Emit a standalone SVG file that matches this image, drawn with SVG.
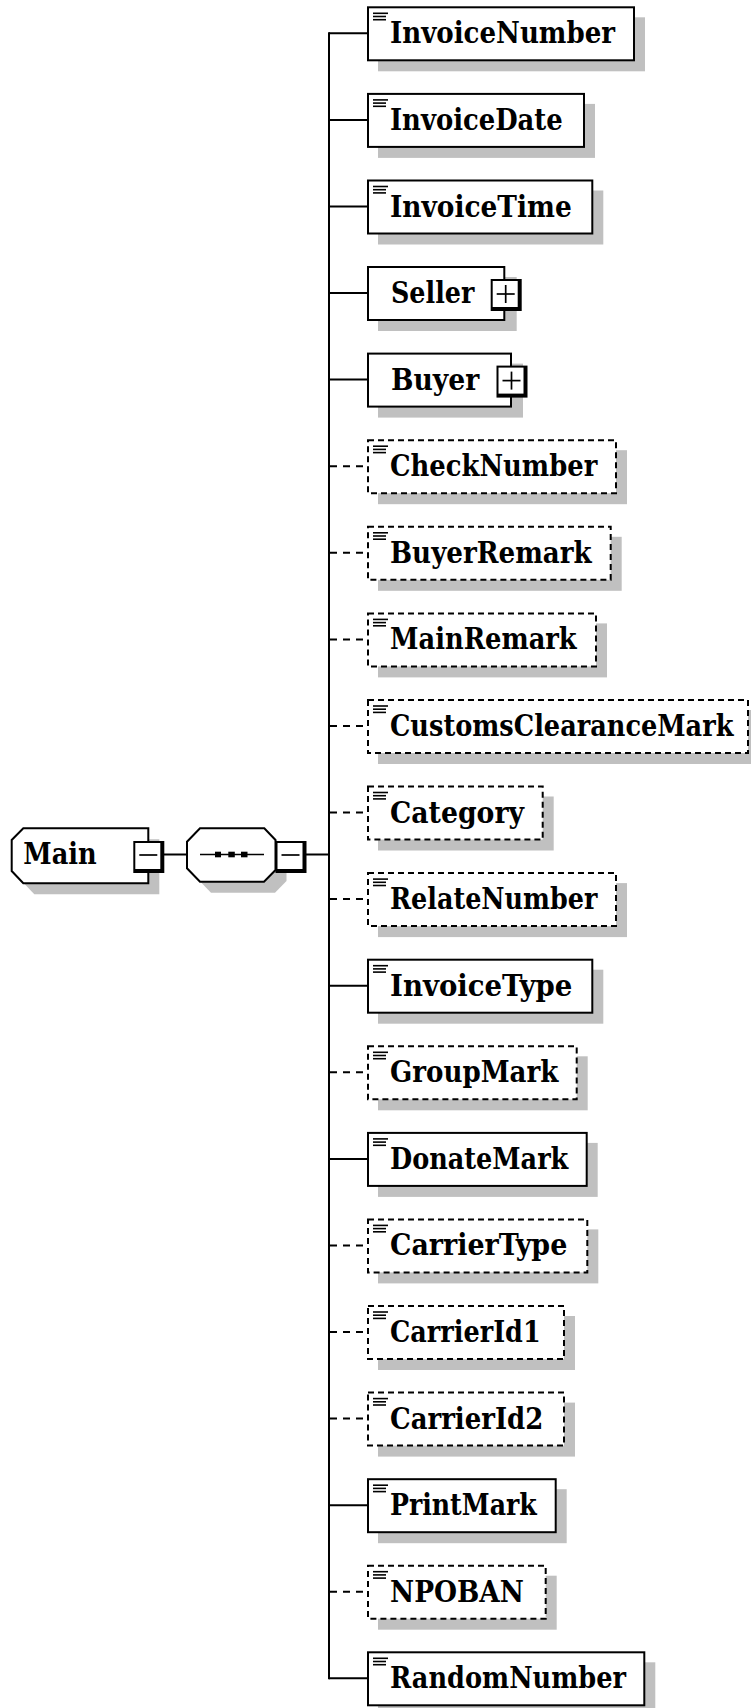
<svg xmlns="http://www.w3.org/2000/svg" width="751" height="1708" viewBox="0 0 751 1708">
<style>
.sh{fill:#c0c0c0}
.bx{fill:#fff;stroke:#000;stroke-width:2}
.bxd{fill:#fff;stroke:#000;stroke-width:2;stroke-dasharray:6 4}
.ln{stroke:#000;stroke-width:2;fill:none}
.lnd{stroke:#000;stroke-width:2;fill:none;stroke-dasharray:7 6}
.ic{stroke:#000;stroke-width:1.6}
.t{font-family:"DejaVu Serif","Liberation Serif",serif;font-weight:bold;font-size:29px;fill:#000}
.pm{stroke:#000;stroke-width:1.7}
</style>
<defs>
<g id="icon"><line class="ic" x1="373" y1="6" x2="388" y2="6"/><line class="ic" x1="373" y1="9.2" x2="386" y2="9.2"/><line class="ic" x1="373" y1="12.4" x2="386" y2="12.4"/></g>
<g id="btn"><rect x="0" y="0" width="31" height="32" fill="#000"/><rect x="2" y="2" width="25" height="26" fill="#fff"/><line class="pm" x1="6" y1="14" x2="24" y2="14"/></g>
<g id="btnp"><rect x="0" y="0" width="31" height="32" fill="#000"/><rect x="2" y="2" width="25" height="26" fill="#fff"/><line class="pm" x1="6" y1="15" x2="24" y2="15"/><line class="pm" x1="15" y1="6" x2="15" y2="24"/></g>
</defs>
<g id="connectors">
<line class="ln" x1="329" y1="32.3" x2="329" y2="1679.3"/>
<line class="ln" x1="164" y1="854.5" x2="187" y2="854.5"/>
<line class="ln" x1="306" y1="854.5" x2="329" y2="854.5"/>
<line class="ln" x1="329" y1="33.3" x2="368" y2="33.3"/>
<line class="ln" x1="329" y1="119.9" x2="368" y2="119.9"/>
<line class="ln" x1="329" y1="206.5" x2="368" y2="206.5"/>
<line class="ln" x1="329" y1="293" x2="368" y2="293"/>
<line class="ln" x1="329" y1="379.6" x2="368" y2="379.6"/>
<line class="lnd" x1="330" y1="466.2" x2="368" y2="466.2"/>
<line class="lnd" x1="330" y1="552.8" x2="368" y2="552.8"/>
<line class="lnd" x1="330" y1="639.4" x2="368" y2="639.4"/>
<line class="lnd" x1="330" y1="726" x2="368" y2="726"/>
<line class="lnd" x1="330" y1="812.5" x2="368" y2="812.5"/>
<line class="lnd" x1="330" y1="899.1" x2="368" y2="899.1"/>
<line class="ln" x1="329" y1="985.7" x2="368" y2="985.7"/>
<line class="lnd" x1="330" y1="1072.3" x2="368" y2="1072.3"/>
<line class="ln" x1="329" y1="1158.9" x2="368" y2="1158.9"/>
<line class="lnd" x1="330" y1="1245.4" x2="368" y2="1245.4"/>
<line class="lnd" x1="330" y1="1332" x2="368" y2="1332"/>
<line class="lnd" x1="330" y1="1418.6" x2="368" y2="1418.6"/>
<line class="ln" x1="329" y1="1505.2" x2="368" y2="1505.2"/>
<line class="lnd" x1="330" y1="1591.7" x2="368" y2="1591.7"/>
<line class="ln" x1="329" y1="1678.3" x2="368" y2="1678.3"/>
</g>
<g id="Main">
<path class="sh" transform="translate(11,11)" d="M23.3,828.3 L148.3,828.3 L148.3,883.3 L23.3,883.3 L11.7,871 L11.7,840 Z"/>
<path class="bx" d="M23.3,828.3 L148.3,828.3 L148.3,883.3 L23.3,883.3 L11.7,871 L11.7,840 Z"/>
<text class="t" x="23.3" y="864" textLength="73.4" lengthAdjust="spacingAndGlyphs">Main</text>
<use href="#btn" x="133.3" y="841"/>
</g>
<g id="sequence">
<path class="sh" transform="translate(11,11)" d="M200,828.3 L264.3,828.3 L275.5,840 L275.5,870 L264,881.7 L200,881.7 L187,868.3 L187,841.7 Z"/>
<path class="bx" d="M200,828.3 L264.3,828.3 L275.5,840 L275.5,870 L264,881.7 L200,881.7 L187,868.3 L187,841.7 Z"/>
<line x1="200" y1="854.5" x2="264" y2="854.5" stroke="#000" stroke-width="1.7"/>
<rect x="215" y="851.7" width="6" height="5.6" fill="#000"/>
<rect x="228.3" y="851.7" width="6.5" height="5.6" fill="#000"/>
<rect x="241" y="851.7" width="6.5" height="5.6" fill="#000"/>
<use href="#btn" x="275.5" y="841"/>
</g>
<g id="InvoiceNumber"><rect class="sh" x="378" y="17.3" width="267" height="54"/><rect class="bx" x="368" y="7.3" width="266" height="53"/><use href="#icon" y="7.3"/><text class="t" x="390" y="43.3" textLength="225" lengthAdjust="spacingAndGlyphs">InvoiceNumber</text></g>
<g id="InvoiceDate"><rect class="sh" x="378" y="103.9" width="217" height="54"/><rect class="bx" x="368" y="93.9" width="216" height="53"/><use href="#icon" y="93.9"/><text class="t" x="390" y="129.9" textLength="172.7" lengthAdjust="spacingAndGlyphs">InvoiceDate</text></g>
<g id="InvoiceTime"><rect class="sh" x="378" y="190.5" width="225.3" height="54"/><rect class="bx" x="368" y="180.5" width="224.3" height="53"/><use href="#icon" y="180.5"/><text class="t" x="390" y="216.5" textLength="181.7" lengthAdjust="spacingAndGlyphs">InvoiceTime</text></g>
<g id="Seller"><rect class="sh" x="378" y="277" width="138.7" height="54"/><rect class="bx" x="368" y="267" width="136.3" height="53"/><text class="t" x="391" y="303" textLength="83.3" lengthAdjust="spacingAndGlyphs">Seller</text><use href="#btnp" x="490.7" y="279"/></g>
<g id="Buyer"><rect class="sh" x="378" y="363.6" width="145" height="54"/><rect class="bx" x="368" y="353.6" width="143" height="53"/><text class="t" x="391" y="389.6" textLength="88.3" lengthAdjust="spacingAndGlyphs">Buyer</text><use href="#btnp" x="496.5" y="365.6"/></g>
<g id="CheckNumber"><rect class="sh" x="378" y="450.2" width="249" height="54"/><rect class="bxd" x="368" y="440.2" width="248" height="53"/><use href="#icon" y="440.2"/><text class="t" x="390" y="476.2" textLength="207.3" lengthAdjust="spacingAndGlyphs">CheckNumber</text></g>
<g id="BuyerRemark"><rect class="sh" x="378" y="536.8" width="243.7" height="54"/><rect class="bxd" x="368" y="526.8" width="242.7" height="53"/><use href="#icon" y="526.8"/><text class="t" x="390" y="562.8" textLength="201.7" lengthAdjust="spacingAndGlyphs">BuyerRemark</text></g>
<g id="MainRemark"><rect class="sh" x="378" y="623.4" width="229" height="54"/><rect class="bxd" x="368" y="613.4" width="228" height="53"/><use href="#icon" y="613.4"/><text class="t" x="390" y="649.4" textLength="186.7" lengthAdjust="spacingAndGlyphs">MainRemark</text></g>
<g id="CustomsClearanceMark"><rect class="sh" x="378" y="710" width="381" height="54"/><rect class="bxd" x="368" y="700" width="380" height="53"/><use href="#icon" y="700"/><text class="t" transform="translate(390,736) scale(0.883,1)" x="0" y="0">CustomsClearanceMark</text></g>
<g id="Category"><rect class="sh" x="378" y="796.5" width="175.7" height="54"/><rect class="bxd" x="368" y="786.5" width="174.7" height="53"/><use href="#icon" y="786.5"/><text class="t" x="390" y="822.5" textLength="134" lengthAdjust="spacingAndGlyphs">Category</text></g>
<g id="RelateNumber"><rect class="sh" x="378" y="883.1" width="249" height="54"/><rect class="bxd" x="368" y="873.1" width="248" height="53"/><use href="#icon" y="873.1"/><text class="t" x="390" y="909.1" textLength="207.3" lengthAdjust="spacingAndGlyphs">RelateNumber</text></g>
<g id="InvoiceType"><rect class="sh" x="378" y="969.7" width="225.3" height="54"/><rect class="bx" x="368" y="959.7" width="224.3" height="53"/><use href="#icon" y="959.7"/><text class="t" x="390" y="995.7" textLength="182.3" lengthAdjust="spacingAndGlyphs">InvoiceType</text></g>
<g id="GroupMark"><rect class="sh" x="378" y="1056.3" width="209.7" height="54"/><rect class="bxd" x="368" y="1046.3" width="208.7" height="53"/><use href="#icon" y="1046.3"/><text class="t" x="390" y="1082.3" textLength="168.3" lengthAdjust="spacingAndGlyphs">GroupMark</text></g>
<g id="DonateMark"><rect class="sh" x="378" y="1142.9" width="219.7" height="54"/><rect class="bx" x="368" y="1132.9" width="218.7" height="53"/><use href="#icon" y="1132.9"/><text class="t" x="390" y="1168.9" textLength="178.3" lengthAdjust="spacingAndGlyphs">DonateMark</text></g>
<g id="CarrierType"><rect class="sh" x="378" y="1229.4" width="220.3" height="54"/><rect class="bxd" x="368" y="1219.4" width="219.3" height="53"/><use href="#icon" y="1219.4"/><text class="t" x="390" y="1255.4" textLength="177.3" lengthAdjust="spacingAndGlyphs">CarrierType</text></g>
<g id="CarrierId1"><rect class="sh" x="378" y="1316" width="197" height="54"/><rect class="bxd" x="368" y="1306" width="196" height="53"/><use href="#icon" y="1306"/><text class="t" x="390" y="1342" textLength="150.7" lengthAdjust="spacingAndGlyphs">CarrierId1</text></g>
<g id="CarrierId2"><rect class="sh" x="378" y="1402.6" width="197" height="54"/><rect class="bxd" x="368" y="1392.6" width="196" height="53"/><use href="#icon" y="1392.6"/><text class="t" x="390" y="1428.6" textLength="153.3" lengthAdjust="spacingAndGlyphs">CarrierId2</text></g>
<g id="PrintMark"><rect class="sh" x="378" y="1489.2" width="188.7" height="54"/><rect class="bx" x="368" y="1479.2" width="187.7" height="53"/><use href="#icon" y="1479.2"/><text class="t" x="390" y="1515.2" textLength="146.7" lengthAdjust="spacingAndGlyphs">PrintMark</text></g>
<g id="NPOBAN"><rect class="sh" x="378" y="1575.7" width="178.7" height="54"/><rect class="bxd" x="368" y="1565.7" width="177.7" height="53"/><use href="#icon" y="1565.7"/><text class="t" x="390" y="1601.7" textLength="134" lengthAdjust="spacingAndGlyphs">NPOBAN</text></g>
<g id="RandomNumber"><rect class="sh" x="378" y="1662.3" width="277.3" height="54"/><rect class="bx" x="368" y="1652.3" width="276.3" height="53"/><use href="#icon" y="1652.3"/><text class="t" x="390" y="1688.3" textLength="236" lengthAdjust="spacingAndGlyphs">RandomNumber</text></g>
</svg>
